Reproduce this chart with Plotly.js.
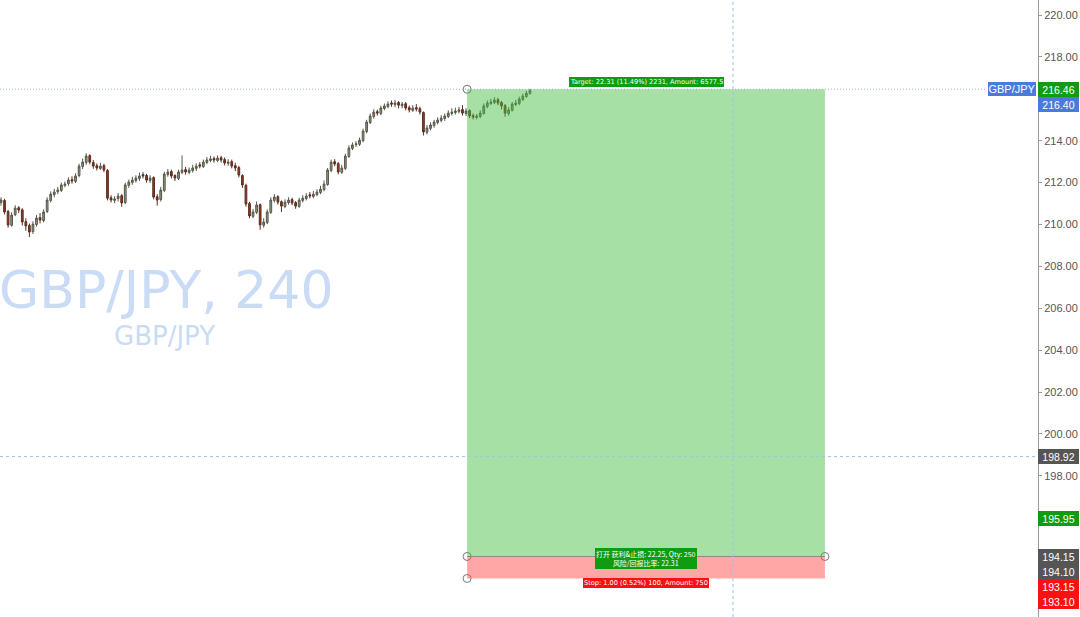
<!DOCTYPE html>
<html>
<head>
<meta charset="utf-8">
<script src="https://cdn.plot.ly/plotly-3.0.1.min.js"></script>
<style>
html,body{margin:0;padding:0;background:#fff;}
#chart{width:1080px;height:617px;}
</style>
</head>
<body>
<div id="chart"></div>
<script>
// ---- Candle data (GBP/JPY, 240) ----
const opens = [211.05,211.15,210.62,209.96,210.47,210.80,210.70,210.14,209.95,209.66,
210.00,210.33,210.19,210.62,211.15,211.43,211.57,211.63,211.87,211.95,
212.14,212.06,212.34,212.77,212.96,213.29,212.96,212.81,212.68,212.81,
212.58,211.28,211.15,211.24,211.38,211.05,211.87,212.01,212.10,212.20,
212.38,212.34,212.10,212.24,211.33,211.19,211.63,212.39,212.53,212.34,
212.20,212.49,212.62,212.49,212.58,212.68,212.85,212.77,212.96,213.06,
213.15,213.06,213.19,213.10,212.92,213.00,212.81,212.72,212.34,211.87,
211.00,210.39,210.58,210.95,209.96,210.10,210.58,211.15,211.33,211.09,
210.86,211.05,211.19,211.05,210.86,211.15,211.24,211.42,211.34,211.43,
211.53,211.67,211.91,212.58,213.00,212.91,212.49,212.68,213.25,213.63,
213.82,213.83,214.01,214.44,214.87,215.16,215.39,215.30,215.54,215.64,
215.80,215.73,215.82,215.68,215.77,215.58,215.45,215.58,215.53,215.35,
214.40,214.59,214.73,214.87,214.97,215.06,215.16,215.30,215.35,215.40,
215.49,215.30,215.44,215.20,215.11,215.16,215.30,215.64,215.78,215.83,
215.96,215.82,215.68,215.30,215.45,215.73,215.78,215.97,216.11,216.25];
const highs = [211.30,211.22,210.70,210.58,210.92,210.88,210.78,210.30,210.05,210.15,
210.45,210.55,210.72,211.30,211.58,211.70,211.80,212.00,212.05,212.25,
212.30,212.45,212.90,213.15,213.40,213.35,213.08,212.92,212.95,212.90,
212.65,211.40,211.35,211.50,211.45,212.00,212.15,212.28,212.35,212.48,
212.50,212.42,212.35,212.30,211.45,211.80,212.52,212.65,212.62,212.40,
212.62,213.30,212.75,212.72,212.85,212.92,212.98,213.10,213.22,213.28,
213.25,213.30,213.28,213.20,213.12,213.10,212.95,212.80,212.40,211.95,
211.08,210.75,211.10,211.00,210.30,210.72,211.30,211.45,211.40,211.15,
211.20,211.30,211.28,211.12,211.28,211.40,211.50,211.55,211.60,211.68,
211.85,212.10,212.70,213.10,213.12,212.98,212.85,213.38,213.78,213.92,
213.98,214.15,214.58,215.00,215.30,215.50,215.48,215.68,215.78,215.88,
215.92,215.95,215.90,215.85,215.85,215.68,215.70,215.75,215.62,215.40,
214.75,214.88,215.00,215.12,215.22,215.30,215.45,215.55,215.58,215.62,
215.70,215.55,215.50,215.30,215.28,215.45,215.78,215.92,216.00,216.08,
216.05,215.90,215.75,215.60,215.85,215.95,216.10,216.25,216.38,216.48];
const lows = [210.90,210.48,209.85,209.90,210.40,210.55,209.95,209.70,209.40,209.55,
209.90,210.05,210.10,210.55,211.05,211.30,211.45,211.55,211.78,211.85,
211.95,211.98,212.25,212.65,212.85,212.88,212.66,212.58,212.60,212.50,
211.15,211.05,211.02,211.10,210.85,210.98,211.75,211.90,212.00,212.08,
212.20,212.00,211.98,211.20,210.90,211.10,211.55,212.28,212.20,212.08,
212.12,212.40,212.38,212.40,212.48,212.55,212.68,212.70,212.88,212.98,
212.95,212.98,212.96,212.82,212.80,212.68,212.55,212.25,211.75,210.85,
210.30,210.30,210.50,209.75,209.85,210.02,210.50,211.05,210.95,210.60,
210.78,210.95,210.92,210.75,210.80,211.05,211.15,211.25,211.25,211.35,
211.45,211.58,211.85,212.50,212.78,212.40,212.42,212.60,213.18,213.55,
213.70,213.75,213.92,214.35,214.80,215.05,215.20,215.22,215.45,215.55,
215.62,215.60,215.55,215.55,215.45,215.35,215.38,215.40,215.25,214.25,
214.30,214.50,214.62,214.78,214.88,214.95,215.08,215.20,215.25,215.30,
215.20,215.18,215.08,215.02,215.02,215.08,215.25,215.55,215.70,215.75,
215.70,215.50,215.15,215.20,215.40,215.65,215.70,215.90,216.05,216.20];
const closes = [211.17,210.60,209.98,210.45,210.79,210.69,210.12,209.93,209.64,210.02,
210.31,210.21,210.60,211.17,211.45,211.55,211.65,211.89,211.93,212.12,
212.08,212.32,212.79,212.98,213.27,212.98,212.79,212.70,212.79,212.60,
211.26,211.17,211.22,211.36,211.03,211.89,212.03,212.12,212.22,212.32,
212.32,212.12,212.22,211.31,211.17,211.65,212.41,212.51,212.32,212.22,
212.51,212.60,212.51,212.60,212.70,212.79,212.79,212.98,213.08,213.13,
213.08,213.17,213.08,212.94,212.98,212.79,212.70,212.36,211.89,210.98,
210.41,210.60,210.93,209.98,210.12,210.60,211.17,211.31,211.07,210.88,
211.07,211.17,211.03,210.88,211.17,211.26,211.36,211.36,211.45,211.55,
211.69,211.93,212.60,212.98,212.89,212.51,212.70,213.27,213.65,213.80,
213.85,214.03,214.46,214.89,215.18,215.37,215.32,215.56,215.66,215.75,
215.75,215.80,215.70,215.75,215.56,215.47,215.56,215.51,215.37,214.42,
214.61,214.75,214.89,214.99,215.08,215.18,215.32,215.37,215.42,215.47,
215.32,215.42,215.18,215.13,215.18,215.32,215.66,215.80,215.85,215.94,
215.80,215.66,215.32,215.47,215.75,215.80,215.99,216.13,216.27,216.40];

// ---- Price axis: visible tick values (others are covered by price labels) ----
const axisTicks = [198, 200, 202, 204, 206, 208, 210, 212, 214, 218, 220];

// ---- Position tool values ----
const targetPrice = 216.46;
const entryPrice = 194.15;
const stopPrice = 193.10;
const lastPrice = 216.40;
const crossPrice = 198.92;
const positionStart = 131.3;
const positionEnd = 232.1;
const cursorIndex = 206.2;

// ---- Labels ----
const targetText = "Target: 22.31 (11.49%) 2231, Amount: 6577.5";
const middleText = "打开 获利&止损: 22.25, Qty: 250<br>风险/回报比率: 22.31";
const stopText = "Stop: 1.00 (0.52%) 100, Amount: 750";
const symbolName = "GBP/JPY";
const watermarkMain = "GBP/JPY, 240";
const watermarkSub = "GBP/JPY";
const priceLabels = [
  {v: "216.46", p: 216.46, bg: "#109c10", shift: 0},
  {v: "216.40", p: 216.40, bg: "#4a7bdc", shift: -14},
  {v: "198.92", p: 198.92, bg: "#555555", shift: 0},
  {v: "195.95", p: 195.95, bg: "#109c10", shift: 0},
  {v: "194.15", p: 194.15, bg: "#555555", shift: 0},
  {v: "194.10", p: 194.10, bg: "#555555", shift: -14.4},
  {v: "193.15", p: 193.15, bg: "#ff1010", shift: -9.5},
  {v: "193.10", p: 193.10, bg: "#ff1010", shift: -23.4}
];

const idx = closes.map((_, i) => i);

const candles = {
  type: 'candlestick',
  x: idx, open: opens, high: highs, low: lows, close: closes,
  increasing: {line: {color: '#55584a', width: 1}, fillcolor: '#8f9a86'},
  decreasing: {line: {color: '#5e2e20', width: 1}, fillcolor: '#8b3a25'},
  whiskerwidth: 0,
  hoverinfo: 'skip',
  showlegend: false
};

const handles = {
  type: 'scatter', mode: 'markers',
  x: [positionStart, positionStart, positionEnd, positionStart],
  y: [targetPrice, entryPrice, entryPrice, stopPrice],
  marker: {size: 8, color: '#ffffff', line: {color: '#777777', width: 1}},
  cliponaxis: false, hoverinfo: 'skip', showlegend: false
};

const shapes = [
  {type: 'rect', xref: 'x', yref: 'y', x0: positionStart, x1: positionEnd, y0: entryPrice, y1: targetPrice,
   fillcolor: 'rgba(70,190,65,0.48)', line: {width: 0}, layer: 'above'},
  {type: 'rect', xref: 'x', yref: 'y', x0: positionStart, x1: positionEnd, y0: stopPrice, y1: entryPrice,
   fillcolor: 'rgba(255,80,80,0.5)', line: {width: 0}, layer: 'above'},
  {type: 'line', xref: 'x', yref: 'y', x0: positionStart, x1: positionEnd, y0: entryPrice, y1: entryPrice,
   line: {color: '#8a8a8a', width: 1}, layer: 'above'},
  {type: 'line', xref: 'paper', yref: 'y', x0: 0, x1: 0.95, y0: targetPrice, y1: targetPrice,
   line: {color: '#9db4c8', width: 1, dash: '1px,2px'}, layer: 'above'},
  {type: 'line', xref: 'paper', yref: 'y', x0: 0, x1: 1, y0: crossPrice, y1: crossPrice,
   line: {color: '#9cc4e0', width: 1, dash: '3px,3px'}, layer: 'above'},
  {type: 'line', xref: 'x', yref: 'paper', x0: cursorIndex, x1: cursorIndex, y0: 0, y1: 1,
   line: {color: '#9cc4e0', width: 1, dash: '3px,3px'}, layer: 'above'}
];

const annotations = [
  {xref: 'paper', yref: 'paper', x: 0.16, y: 0.53, xanchor: 'center', yanchor: 'middle', showarrow: false,
   text: watermarkMain, font: {family: 'DejaVu Sans', size: 52, color: '#c9dbf5'}},
  {xref: 'paper', yref: 'paper', x: 0.158, y: 0.455, xanchor: 'center', yanchor: 'middle', showarrow: false,
   text: watermarkSub, font: {family: 'DejaVu Sans', size: 26, color: '#c9dbf5'}},
  {xref: 'x', yref: 'y', x: (positionStart + positionEnd) / 2, y: targetPrice, yshift: 2,
   xanchor: 'center', yanchor: 'bottom', showarrow: false, text: targetText,
   font: {family: 'DejaVu Sans', size: 6.6, color: '#ffffff'}, bgcolor: '#109c10', borderpad: 1, borderwidth: 0},
  {xref: 'x', yref: 'y', x: (positionStart + positionEnd) / 2, y: entryPrice, yshift: -2,
   xanchor: 'center', yanchor: 'middle', showarrow: false, text: middleText,
   font: {family: 'Noto Sans CJK SC, DejaVu Sans', size: 7, color: '#ffffff'}, bgcolor: '#109c10', borderpad: 1, borderwidth: 0},
  {xref: 'x', yref: 'y', x: (positionStart + positionEnd) / 2, y: stopPrice, yshift: 0,
   xanchor: 'center', yanchor: 'top', showarrow: false, text: stopText,
   font: {family: 'DejaVu Sans', size: 6.6, color: '#ffffff'}, bgcolor: '#ff1010', borderpad: 1, borderwidth: 0},
  {xref: 'paper', yref: 'y', x: 1, y: targetPrice, xanchor: 'right', yanchor: 'middle', xshift: -2,
   showarrow: false, text: symbolName, width: 47, height: 13, align: 'center',
   font: {family: 'Liberation Sans, Arial', size: 11, color: '#ffffff'}, bgcolor: '#4a7bdc', borderpad: 0.5, borderwidth: 0}
];
priceLabels.forEach(l => {
  annotations.push({
    xref: 'paper', yref: 'y', x: 1, y: l.p, xanchor: 'left', yanchor: 'middle', yshift: l.shift,
    showarrow: false, text: l.v, width: 40, height: 14, align: 'center',
    font: {family: 'Liberation Sans, Arial', size: 10.5, color: '#ffffff'}, bgcolor: l.bg, borderpad: 0.5, borderwidth: 0
  });
});

const layout = {
  width: 1080, height: 617,
  margin: {l: 0, r: 42, t: 0, b: 0, pad: 0},
  paper_bgcolor: '#ffffff', plot_bgcolor: '#ffffff',
  showlegend: false,
  xaxis: {range: [-0.28, 292.12], visible: false, rangeslider: {visible: false}, fixedrange: true},
  yaxis: {
    side: 'right', range: [191.26, 220.72], tickmode: 'array', tickvals: axisTicks,
    ticktext: axisTicks.map(v => v.toFixed(2)),
    showgrid: false, zeroline: false, showline: true, linecolor: '#9a9a9a', linewidth: 1,
    ticks: 'outside', ticklen: 3, tickcolor: '#9a9a9a',
    tickfont: {family: 'Liberation Sans, Arial', size: 11, color: '#555555'}
  },
  shapes: shapes,
  annotations: annotations
};

Plotly.newPlot('chart', [candles, handles], layout, {displayModeBar: false, staticPlot: true});
</script>
</body>
</html>
